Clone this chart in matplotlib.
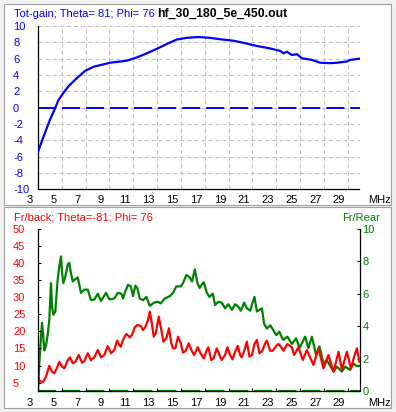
import matplotlib
matplotlib.use("Agg")
import matplotlib.pyplot as plt
from matplotlib.patches import Rectangle
from matplotlib.transforms import blended_transform_factory as btf, ScaledTranslation

# ---------------- data ----------------
gain_freq = [3.0, 3.45, 4.0, 4.43, 4.71, 5.13, 5.55, 6.25, 6.95, 7.65, 8.2, 9.05,
             10.45, 11.3, 12.13, 12.97, 13.82, 14.66, 15.5, 16.47, 17.45, 18.44,
             19.41, 20.39, 21.38, 22.5, 23.34, 23.61, 23.9, 24.32, 24.74, 25.16,
             26.0, 26.7, 27.54, 28.1, 28.94, 29.22, 29.5, 30.0]
gain_db = [-5.4, -3.6, -1.5, -0.1, 0.9, 1.8, 2.6, 3.6, 4.5, 5.0, 5.2, 5.5,
           5.75, 6.15, 6.65, 7.2, 7.8, 8.35, 8.55, 8.65, 8.55, 8.35,
           8.2, 7.9, 7.55, 7.25, 6.95, 6.65, 6.85, 6.45, 6.55, 6.05,
           5.85, 5.5, 5.45, 5.5, 5.65, 5.85, 5.9, 6.0]

fb_freq = [3.0, 3.17, 3.45, 3.67, 3.95, 4.18, 4.37, 4.57, 4.79, 5.02, 5.21, 5.5,
           5.69, 5.92, 6.13, 6.42, 6.7, 6.89, 7.18, 7.45, 7.73, 8.02, 8.29, 8.57,
           8.85, 9.13, 9.41, 9.64, 9.83, 9.95, 10.14, 10.42, 10.71, 10.9, 11.13,
           11.34, 11.63, 11.82, 12.0, 12.24, 12.39, 12.52, 12.72, 12.89, 13.14,
           13.36, 13.53, 13.78, 14.0, 14.2, 14.34, 14.53, 14.76, 14.99, 15.18,
           15.4, 15.66, 15.88, 16.11, 16.42, 16.65, 16.92, 17.18, 17.31, 17.54,
           17.74, 18.02, 18.24, 18.43, 18.71, 18.91, 19.13, 19.33, 19.55, 19.78,
           19.97, 20.11, 20.34, 20.54, 20.76, 20.96, 21.18, 21.38, 21.6, 21.8,
           22.08, 22.22, 22.5, 22.72, 23.0, 23.19, 23.39, 23.61, 23.95, 24.32,
           24.51, 24.87, 25.24, 25.58, 26.13, 26.55, 26.97, 27.39, 27.82, 28.24,
           28.52, 28.94, 29.28, 29.55, 29.78, 30.0]
fb_db = [6.75, 5.3, 5.3, 6.75, 9.9, 8.2, 7.75, 9.2, 11.1, 9.7, 9.2, 11.6,
         12.4, 10.7, 11.1, 13.1, 10.85, 11.3, 13.6, 11.6, 12.4, 14.55, 12.4, 13.1,
         15.7, 13.6, 14.55, 17.3, 16.0, 15.5, 17.5, 19.25, 18.25, 19.0, 21.2,
         21.85, 21.6, 20.4, 21.2, 23.3, 25.75, 23.3, 18.45, 19.45, 24.3,
         20.4, 17.0, 18.0, 20.9, 16.5, 15.05, 15.05, 18.45, 16.5, 13.8,
         14.3, 16.5, 14.55, 13.1, 15.4, 13.6, 12.1, 14.55, 15.35, 11.65,
         12.1, 15.05, 13.1, 11.65, 13.1, 15.35, 13.1, 11.85, 14.0, 15.75,
         13.1, 12.4, 14.55, 17.0, 12.6, 13.1, 16.3, 17.5, 13.6, 14.1,
         16.5, 17.3, 14.35, 14.35, 15.75, 16.3, 15.55, 14.35, 16.3, 15.35,
         13.1, 15.35, 11.65, 14.55, 10.2, 15.05, 9.2, 13.1, 8.2, 14.05,
         8.7, 14.05, 9.2, 12.6, 15.05, 11.1]

fr_freq = [3.0, 3.11, 3.25, 3.34, 3.45, 3.53, 3.67, 3.81, 3.95, 4.09, 4.18, 4.29,
           4.45, 4.65, 4.79, 4.93, 5.02, 5.13, 5.29, 5.5, 5.63, 5.77, 5.92, 6.13,
           6.34, 6.61, 6.89, 7.18, 7.45, 7.74, 8.02, 8.29, 8.71, 8.99, 9.41, 9.7,
           10.0, 10.14, 10.34, 10.56, 10.79, 10.98, 11.18, 11.34, 11.55, 11.82,
           12.1, 12.39, 12.75, 13.08, 13.3, 13.64, 14.07, 14.34, 14.62, 14.99,
           15.18, 15.46, 15.75, 15.94, 16.17, 16.39, 16.58, 16.84, 16.93, 17.18,
           17.4, 17.68, 17.87, 18.15, 18.43, 18.71, 18.99, 19.28, 19.55, 19.83,
           20.03, 20.31, 20.54, 20.82, 21.04, 21.18, 21.38, 21.6, 21.8, 21.99,
           22.22, 22.5, 22.72, 23.0, 23.28, 23.48, 23.61, 23.95, 24.32, 24.68,
           24.96, 25.44, 25.71, 26.0, 26.36, 26.64, 26.98, 27.26, 27.82, 28.1,
           28.52, 28.8, 29.22, 29.5, 29.72, 30.0]
fr_val = [0.0, 1.7, 3.3, 4.2, 3.3, 2.5, 2.8, 3.45, 4.4, 6.65, 5.2, 4.7,
          4.9, 6.85, 7.7, 8.3, 7.3, 6.65, 7.05, 7.8, 7.9, 7.25, 6.75, 6.9,
          7.0, 6.05, 6.25, 6.25, 5.6, 5.65, 6.0, 5.55, 6.05, 5.65, 5.7, 6.05,
          6.0, 5.7, 6.15, 6.55, 6.45, 5.85, 6.5, 6.35, 5.7, 5.6,
          5.8, 5.25, 5.45, 5.5, 5.4, 5.7, 5.85, 6.05, 6.45, 6.45,
          6.65, 7.15, 7.0, 6.75, 7.5, 6.65, 6.35, 6.65, 6.7, 6.05,
          5.8, 6.0, 5.3, 5.5, 5.45, 5.1, 5.35, 5.0, 5.35, 5.2,
          4.95, 5.45, 5.1, 4.95, 5.5, 5.8, 4.9, 5.0, 5.1, 4.15,
          3.85, 4.05, 3.8, 3.45, 3.65, 3.3, 3.15, 3.35, 2.9, 3.25,
          2.65, 3.35, 2.65, 3.35, 2.2, 2.75, 1.7, 1.9, 1.2, 1.5,
          1.2, 1.5, 1.3, 1.7, 1.55, 1.55]

x_labels = list(range(3, 31, 2))
gain_ticks = list(range(-10, 11, 2))
fb_ticks = list(range(5, 51, 5))
fr_ticks = list(range(0, 11, 2))

# ---------------- styling ----------------
plt.rcParams['font.family'] = ['Liberation Sans', 'DejaVu Sans']
plt.rcParams['lines.scale_dashes'] = False
FS = 8
BLUE, RED, GREEN = '#0000ff', '#ff0000', '#008000'
GRID = '#c0c0c0'

W, H = 396, 412
fig = plt.figure(figsize=(W / 100, H / 100), dpi=100, facecolor='#f0f0f0')


def fx(px):
    return px / W


def fy(py):
    return 1 - py / H


def px_off(dx, dy):
    return ScaledTranslation(dx / 100, dy / 100, fig.dpi_scale_trans)


# panel frames
for top, bot in [(4, 205), (207, 408)]:
    fig.add_artist(Rectangle((fx(4), fy(bot)), fx(391) - fx(4), fy(top) - fy(bot),
                             transform=fig.transFigure, facecolor='white',
                             edgecolor='#a0a0a0', lw=0.8, zorder=0))

# ---------------- top panel: gain ----------------
ax1 = fig.add_axes([fx(38), fy(189.3), (359.5 - 38) / W, (189.3 - 26) / H])
ax1.patch.set_visible(False)
ax1.set_xlim(3, 30)
ax1.set_ylim(-10, 10)
for s in ['top', 'right']:
    ax1.spines[s].set_visible(False)
for s in ['left', 'bottom']:
    ax1.spines[s].set_color('black')
    ax1.spines[s].set_linewidth(0.9)
ax1.set_xticks(x_labels)
ax1.set_yticks(gain_ticks)
ax1.tick_params(length=0, labelleft=False, labelbottom=False)
ax1.grid(True, color=GRID, lw=0.8, dashes=(2.9, 2.2))
ax1.axhline(0, color=BLUE, lw=1.4, dashes=(13.0, 4.3), zorder=2)
ax1.plot(gain_freq, gain_db, color=BLUE, lw=1.6, zorder=3)

tr = btf(fig.transFigure, ax1.transData) + px_off(0, -4)
for v in gain_ticks:
    ax1.text(fx(13), v, str(v), transform=tr, ha='left', va='baseline',
             color=BLUE, fontsize=FS, clip_on=False)
tr = btf(ax1.transData, fig.transFigure) + px_off(-8.5, 0)
for v in x_labels:
    ax1.text(v, fy(203.3), str(v), transform=tr, ha='center', va='baseline',
             color='black', fontsize=FS, clip_on=False)
fig.text(fx(367.7), fy(203.3), 'MHz', ha='left', va='baseline', fontsize=FS)
fig.text(fx(14), fy(17), 'Tot-gain; Theta= 81; Phi= 76', color=BLUE,
         fontsize=FS, ha='left', va='baseline')
fig.text(fx(157), fy(17), 'hf_30_180_5e_450.out', color='black',
         fontsize=8.8, weight='bold', ha='left', va='baseline')

# ---------------- bottom panel: F/B and F/R ----------------
ax3 = fig.add_axes([fx(38), fy(391), (359.5 - 38) / W, (391 - 228.8) / H])
ax3.patch.set_visible(False)
ax3.set_xlim(3, 30)
ax3.set_ylim(2.57, 50)
ax4 = ax3.twinx()
ax4.set_ylim(0, 10)
ax4.patch.set_visible(False)
for s in ['top', 'right']:
    ax3.spines[s].set_visible(False)
for s in ['top', 'left', 'bottom']:
    ax4.spines[s].set_visible(False)
for sp in [ax3.spines['left'], ax3.spines['bottom'], ax4.spines['right']]:
    sp.set_color('black')
    sp.set_linewidth(0.9)
ax3.set_xticks(x_labels)
ax3.set_yticks(fb_ticks)
ax4.set_yticks(fr_ticks)
ax3.tick_params(direction='in', length=2.3, width=0.8, labelleft=False,
                labelbottom=False)
ax4.tick_params(direction='in', length=2.3, width=0.8, labelright=False)

ax4.axhline(0, color=GREEN, lw=1.6, dashes=(13.0, 4.3), zorder=3, clip_on=False)
ax4.plot(fr_freq, fr_val, color=GREEN, lw=1.6, zorder=2)
ax3.set_zorder(ax4.get_zorder() + 1)
ax3.plot(fb_freq, fb_db, color=RED, lw=1.6, zorder=2)

tr = btf(fig.transFigure, ax3.transData) + px_off(0, -4)
for v in fb_ticks:
    ax3.text(fx(13), v, str(v), transform=tr, ha='left', va='baseline',
             color=RED, fontsize=FS, clip_on=False)
tr = btf(fig.transFigure, ax4.transData) + px_off(0, -4)
for v in fr_ticks:
    ax4.text(fx(362.5), v, str(v), transform=tr, ha='left', va='baseline',
             color=GREEN, fontsize=FS, clip_on=False)
tr = btf(ax3.transData, fig.transFigure) + px_off(-8.5, 0)
for v in x_labels:
    ax3.text(v, fy(406.3), str(v), transform=tr, ha='center', va='baseline',
             color='black', fontsize=FS, clip_on=False)
fig.text(fx(367.7), fy(406.3), 'MHz', ha='left', va='baseline', fontsize=FS)
fig.text(fx(14), fy(220.5), 'Fr/back; Theta=-81; Phi= 76', color=RED,
         fontsize=FS, ha='left', va='baseline')
fig.text(fx(380), fy(220.5), 'Fr/Rear', color=GREEN, fontsize=FS,
         ha='right', va='baseline')

fig.savefig('out.png', dpi=100, facecolor=fig.get_facecolor())
